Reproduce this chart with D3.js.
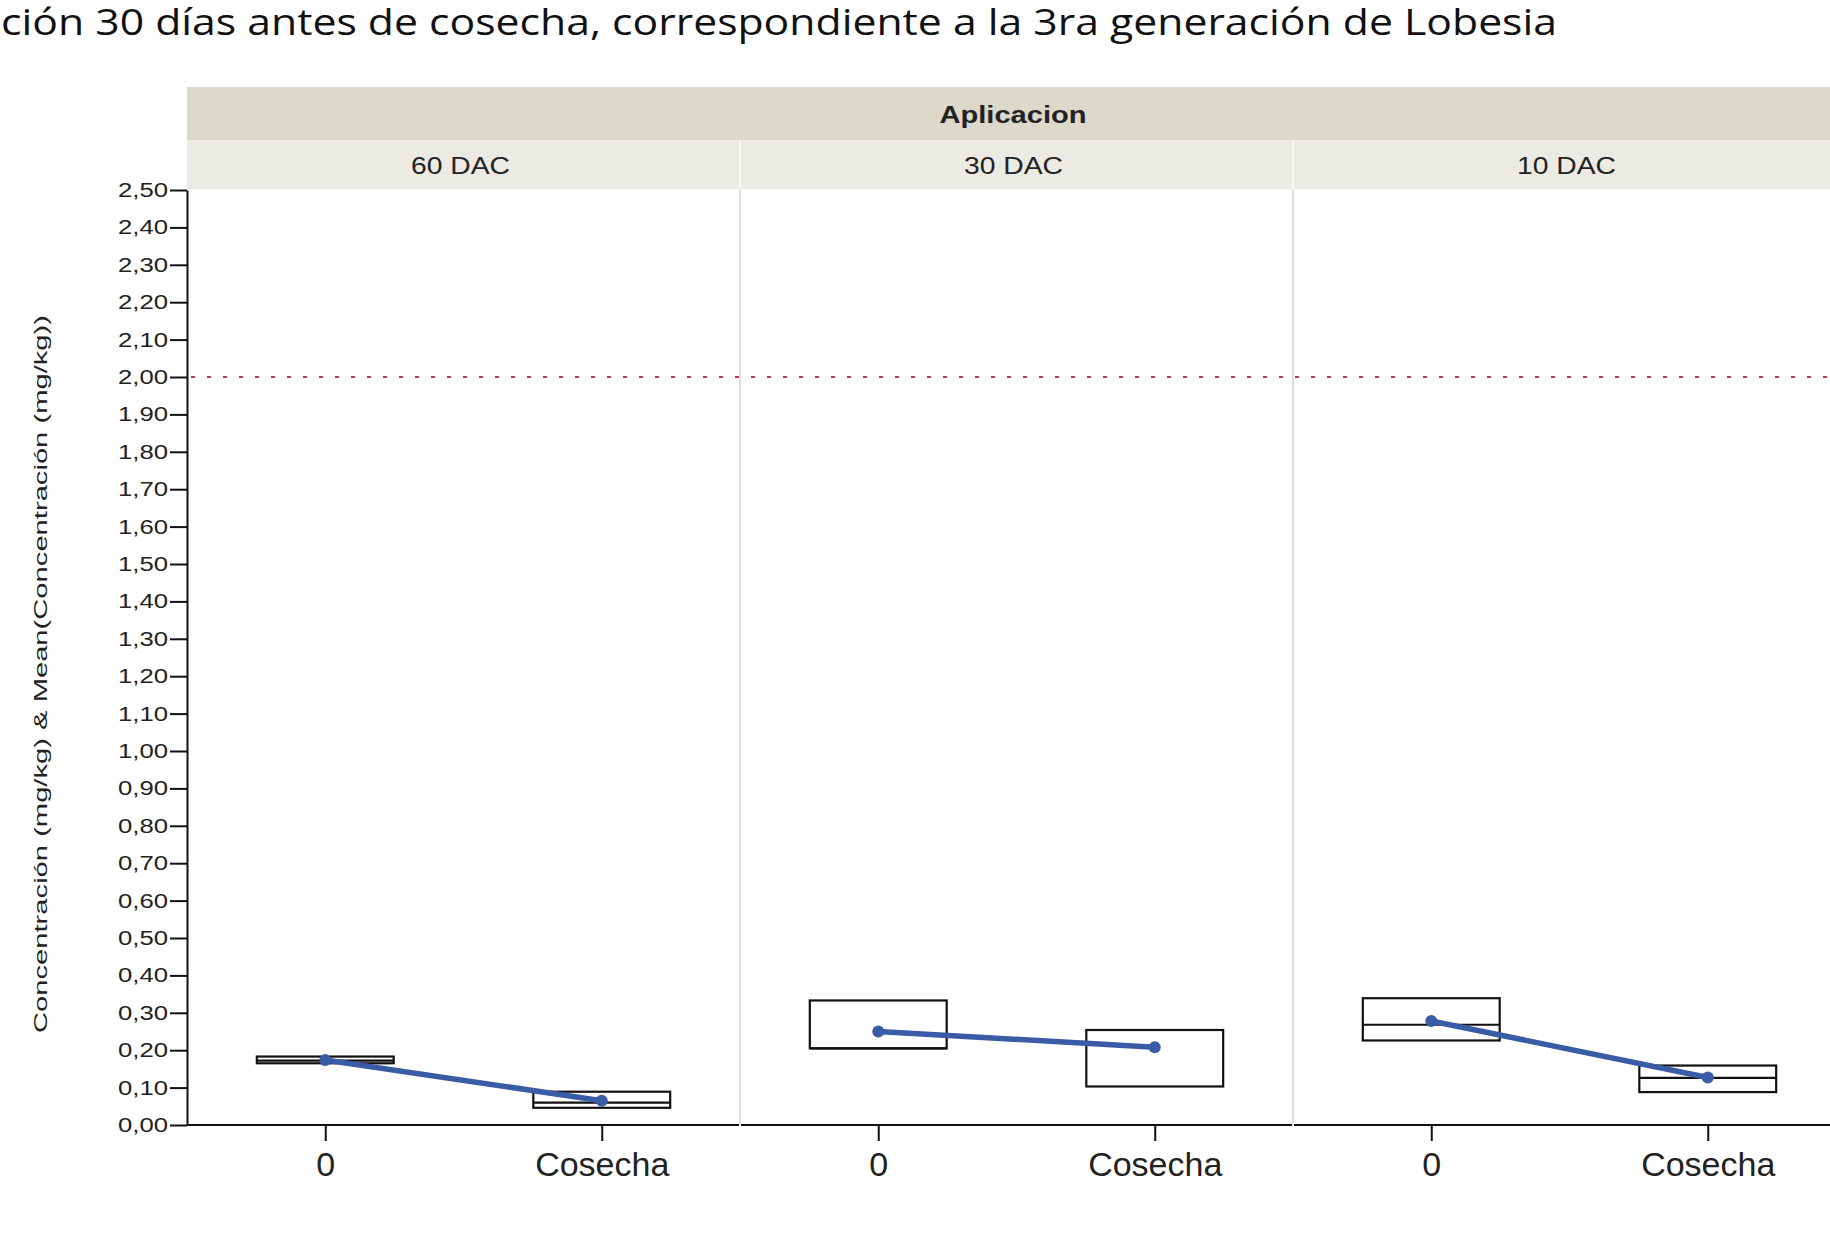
<!DOCTYPE html>
<html>
<head>
<meta charset="utf-8">
<script src="https://cdn.jsdelivr.net/npm/d3@7"></script>
<style>
  html, body { margin: 0; padding: 0; background: #fff; }
  svg { display: block; }
</style>
</head>
<body>
<svg id="chart" width="1830" height="1233"></svg>
<script>
// ---------------- data ----------------
const titleText = "ción 30 días antes de cosecha, correspondiente a la 3ra generación de Lobesia";
const groupTitle = "Aplicacion";
const panels = ["60 DAC", "30 DAC", "10 DAC"];
const times = ["0", "Cosecha"];
const yTicks = [0,0.1,0.2,0.3,0.4,0.5,0.6,0.7,0.8,0.9,1.0,1.1,1.2,1.3,1.4,1.5,1.6,1.7,1.8,1.9,2.0,2.1,2.2,2.3,2.4,2.5];
const yTitle = "Concentración (mg/kg)  & Mean(Concentración (mg/kg))";
const limitValue = 2.0;
// box (quantile) values per panel, per time
const q1 = [[0.165, 0.046], [0.205, 0.103], [0.226, 0.088]];
const q3 = [[0.183, 0.089], [0.333, 0.254], [0.339, 0.159]];
const medians = [[0.172, 0.060], [0.205, null], [0.268, 0.126]];
const means = [[0.174, 0.065], [0.250, 0.208], [0.278, 0.127]];

// ---------------- layout ----------------
const svg = d3.select("#chart");
const plotLeft = 187, panelW = 553, plotTop = 190, plotBottom = 1125;
const headTop = 87, headMid = 140, headBottom = 189;

const y = d3.scaleLinear().domain([0, 2.5]).range([plotBottom, plotTop]);
const panelX = i => plotLeft + i * panelW;
const x = d3.scalePoint().domain(times).range([0, panelW]).padding(0.5);
const boxW = x.step() * 0.495;

const font = "'Liberation Sans', Arial, sans-serif";

// title
svg.append("text")
  .attr("x", 1).attr("y", 35)
  .attr("font-family", "'Open Sans', 'Noto Sans', sans-serif")
  .attr("font-size", 37)
  .attr("fill", "#111")
  .attr("textLength", 1556)
  .attr("lengthAdjust", "spacingAndGlyphs")
  .text(titleText);

// header bands
const totalW = panelW * panels.length;
svg.append("rect").attr("x", plotLeft).attr("y", headTop)
  .attr("width", totalW).attr("height", headMid - headTop)
  .attr("fill", "#dcd9cb");
svg.append("rect").attr("x", plotLeft).attr("y", headMid)
  .attr("width", totalW).attr("height", headBottom - headMid)
  .attr("fill", "#ecebe3");
svg.append("text")
  .attr("x", 1013).attr("y", 114)
  .attr("text-anchor", "middle").attr("dominant-baseline", "central")
  .attr("font-family", font).attr("font-weight", "bold").attr("font-size", 24)
  .attr("fill", "#222")
  .attr("textLength", 147).attr("lengthAdjust", "spacingAndGlyphs")
  .text(groupTitle);

panels.forEach((p, i) => {
  svg.append("text")
    .attr("x", panelX(i) + panelW / 2 - 3).attr("y", 165)
    .attr("text-anchor", "middle").attr("dominant-baseline", "central")
    .attr("font-family", font).attr("font-size", 24)
    .attr("fill", "#222")
    .attr("textLength", 99).attr("lengthAdjust", "spacingAndGlyphs")
    .text(p);
});

// panel separators
panels.forEach((p, i) => {
  if (i === 0) return;
  svg.append("line")
    .attr("x1", panelX(i)).attr("x2", panelX(i))
    .attr("y1", headMid).attr("y2", headBottom)
    .attr("stroke", "#f7f7f3").attr("stroke-width", 2);
  svg.append("line")
    .attr("x1", panelX(i)).attr("x2", panelX(i))
    .attr("y1", headBottom).attr("y2", plotBottom)
    .attr("stroke", "#d4d4d4").attr("stroke-width", 1.5);
});

// limit line
svg.append("line")
  .attr("x1", plotLeft + 4).attr("x2", plotLeft + totalW)
  .attr("y1", y(limitValue)).attr("y2", y(limitValue))
  .attr("stroke", "#c23a4a").attr("stroke-width", 2)
  .attr("stroke-dasharray", "4,12");

// y axis
const yAxis = d3.axisLeft(y).tickValues(yTicks).tickSize(17).tickSizeOuter(0).tickPadding(2)
  .tickFormat(d => d.toFixed(2).replace(".", ","));
const gy = svg.append("g").attr("transform", `translate(${plotLeft},0)`).call(yAxis);
gy.select(".domain").attr("stroke", "#111").attr("stroke-width", 2);
gy.selectAll(".tick line").attr("stroke", "#111").attr("stroke-width", 2);
gy.selectAll(".tick text")
  .attr("font-family", font).attr("font-size", 20).attr("fill", "#222")
  .attr("textLength", 50).attr("lengthAdjust", "spacingAndGlyphs");

// y title
svg.append("text")
  .attr("transform", `translate(40,${(315 + 1033) / 2}) rotate(-90)`)
  .attr("text-anchor", "middle").attr("dominant-baseline", "central")
  .attr("font-family", font).attr("font-size", 19).attr("fill", "#222")
  .attr("textLength", 718).attr("lengthAdjust", "spacingAndGlyphs")
  .text(yTitle);

// panels
panels.forEach((p, i) => {
  const g = svg.append("g").attr("transform", `translate(${panelX(i)},0)`);

  // x axis
  const xAxis = d3.axisBottom(x).tickSize(16).tickSizeOuter(0).tickPadding(11);
  const gx = g.append("g").attr("transform", `translate(0,${plotBottom})`).call(xAxis);
  gx.select(".domain").attr("stroke", "#111").attr("stroke-width", 2)
    .attr("d", `M${i === 0 ? 0 : 1},0H${panelW - 1}`);
  gx.selectAll(".tick line").attr("stroke", "#111").attr("stroke-width", 2);
  gx.selectAll(".tick text")
    .attr("font-family", font).attr("font-size", 34).attr("fill", "#222");

  // boxes
  times.forEach((t, j) => {
    const cx = x(t);
    g.append("rect")
      .attr("x", cx - boxW / 2).attr("y", y(q3[i][j]))
      .attr("width", boxW).attr("height", y(q1[i][j]) - y(q3[i][j]))
      .attr("fill", "#fff").attr("stroke", "#111").attr("stroke-width", 2.2);
    if (medians[i][j] !== null) {
      g.append("line")
        .attr("x1", cx - boxW / 2).attr("x2", cx + boxW / 2)
        .attr("y1", y(medians[i][j])).attr("y2", y(medians[i][j]))
        .attr("stroke", "#111").attr("stroke-width", 2.2);
    }
  });

  // means line
  const pts = times.map((t, j) => [x(t), y(means[i][j])]);
  g.append("path")
    .attr("d", d3.line()(pts))
    .attr("fill", "none").attr("stroke", "#3a5ca6").attr("stroke-width", 5.5)
    .attr("stroke-linecap", "round");
  g.selectAll("circle.mean").data(pts).enter().append("circle")
    .attr("class", "mean")
    .attr("cx", d => d[0]).attr("cy", d => d[1]).attr("r", 6)
    .attr("fill", "#3a5ca6");
});
</script>
</body>
</html>
